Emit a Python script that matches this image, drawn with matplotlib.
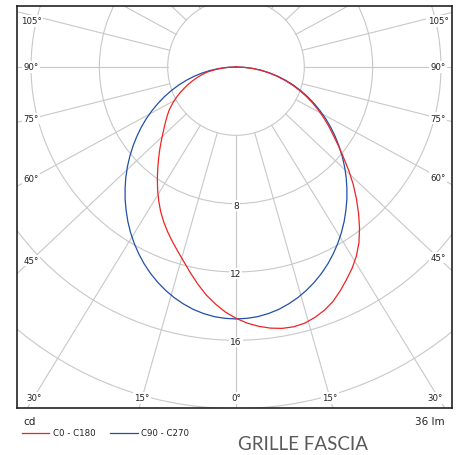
import numpy as np
import matplotlib.pyplot as plt
from matplotlib.patches import Circle
from matplotlib.lines import Line2D

plt.rcParams['font.family'] = ['DejaVu Sans']

# photometric data (cd), gamma in degrees
gamma = [0, 2.5, 5, 7.5, 10, 12.5, 15, 17.5, 20, 22.5, 25, 27.5, 30, 32.5, 35, 37.5,
         40, 42.5, 45, 47.5, 50, 52.5, 55, 57.5, 60, 62.5, 65, 67.5, 70, 72.5, 75,
         77.5, 80, 82.5, 85, 87.5, 90]
c0 = [14.71, 15.01, 15.24, 15.42, 15.54, 15.58, 15.53, 15.37, 15.15, 14.85, 14.45,
      14.02, 13.6, 13.12, 12.55, 11.88, 11.16, 10.43, 9.7, 8.95, 8.2, 7.55, 6.95,
      6.43, 5.92, 5.42, 4.92, 4.42, 3.92, 3.42, 2.92, 2.43, 1.94, 1.46, 0.98, 0.49, 0.0]
c180 = [14.71, 14.36, 13.92, 13.45, 12.9, 12.34, 11.8, 11.32, 10.88, 10.45, 10.01,
        9.55, 9.05, 8.54, 8.03, 7.53, 7.06, 6.62, 6.2, 5.82, 5.48, 5.18, 4.9, 4.62,
        4.3, 3.98, 3.65, 3.3, 2.98, 2.65, 2.33, 2.02, 1.7, 1.28, 0.86, 0.43, 0.0]
c90 = [14.75, 14.73, 14.67, 14.56, 14.41, 14.21, 13.98, 13.71, 13.41, 13.08, 12.72,
       12.33, 11.92, 11.49, 11.04, 10.57, 10.10, 9.61, 9.12, 8.62, 8.11, 7.60, 7.09,
       6.58, 6.07, 5.55, 5.04, 4.53, 4.02, 3.52, 3.01, 2.51, 2.00, 1.50, 1.00, 0.50, 0.0]
c270 = [14.75, 14.73, 14.67, 14.56, 14.41, 14.21, 13.98, 13.71, 13.41, 13.08, 12.72,
        12.33, 11.92, 11.49, 11.04, 10.57, 10.10, 9.61, 9.12, 8.62, 8.11, 7.60, 7.09,
        6.58, 6.07, 5.55, 5.04, 4.53, 4.02, 3.52, 3.01, 2.51, 2.00, 1.50, 1.00, 0.50, 0.0]

rings = [4, 8, 12, 16, 20, 24]
ring_labels = [8, 12, 16]
angle_lines = [0, 15, 30, 45, 60, 75, 90, 105, 120, 135, 150, 165, 180]
angle_labels = [0, 15, 30, 45, 60, 75, 90, 105]
unit_text = 'cd'
flux_text = '36 lm'
series_names = ['C0 - C180', 'C90 - C270']
title = 'GRILLE FASCIA'

RED = '#ee2424'
BLUE = '#2150a8'
GRID = '#c8c8c8'

# layout in pixels
W, H = 464, 456
S = 17.08                   # px per cd
cx, cy = 236, 68            # centre of diagram
L, R, T, B = 17, 452, 7, 409
K = 1.06                    # grid rays are slightly spread sideways

fig = plt.figure(figsize=(W / 100, H / 100), dpi=100)
ax = fig.add_axes([L / W, 1 - B / H, (R - L) / W, (B - T) / H])
ax.set_xlim((L - cx) / S, (R - cx) / S)
ax.set_ylim((cy - B) / S, (cy - T) / S)
ax.set_xticks([])
ax.set_yticks([])
for sp in ax.spines.values():
    sp.set_color('#222222')
    sp.set_linewidth(1.2)

# rings
for r in rings:
    ax.add_patch(Circle((0, 0), r, fill=False, ec=GRID, lw=0.8, zorder=1))

# rays
for a in angle_lines:
    th = np.radians(a)
    for sd in ([1] if a in (0, 180) else [-1, 1]):
        dx, dy = sd * K * np.sin(th), -np.cos(th)
        n = np.hypot(dx, dy)
        ax.plot([4 * dx / n, 40 * dx / n], [4 * dy / n, 40 * dy / n],
                color=GRID, lw=0.8, zorder=1)

# ring values
for r in ring_labels:
    ax.text(0, -r - 0.1, str(r), ha='center', va='center', fontsize=6.5,
            color='#222222', zorder=2,
            bbox=dict(fc='white', ec='none', pad=0.6))

# angle values along the frame
Lx, Rx, By, Ty = 31, 438, 399, 22
for a in angle_labels:
    th = np.radians(a)
    for sd in ([1] if a == 0 else [-1, 1]):
        dx, dy = sd * K * np.sin(th), np.cos(th)
        if dy > 1e-9 and abs(dx * (By - cy) / dy) <= (cx - Lx) + 8:
            px, py = cx + dx * (By - cy) / dy, By
            px = min(max(px, 34), 435)
        else:
            t = ((Rx - cx) if sd > 0 else (cx - Lx)) / abs(dx)
            px, py = cx + dx * t, max(cy + dy * t, Ty)
        ax.text((px - cx) / S, (cy - py) / S, f'{a}°', ha='center', va='center',
                fontsize=6.2, color='#222222', zorder=2,
                bbox=dict(fc='white', ec='none', pad=0.8))


def curve(right, left):
    g = np.radians(gamma)
    right = np.array(right)
    left = np.array(left)
    x = np.concatenate([-(left * np.sin(g))[::-1], right * np.sin(g)])
    y = np.concatenate([-(left * np.cos(g))[::-1], -right * np.cos(g)])
    return x, y


x, y = curve(c90, c270)
ax.plot(x, y, color=BLUE, lw=0.9, zorder=3)
x, y = curve(c0, c180)
ax.plot(x, y, color=RED, lw=0.9, zorder=3)

# texts under the frame
fig.text(23 / W, 1 - 422 / H, unit_text, fontsize=7.5, va='center', ha='left', color='#222222')
fig.text(445 / W, 1 - 422 / H, flux_text, fontsize=7.5, va='center', ha='right', color='#222222')

fig.add_artist(Line2D([22 / W, 49 / W], [1 - 434 / H] * 2, color=RED, lw=0.9))
fig.text(53 / W, 1 - 434 / H, series_names[0], fontsize=6.2, va='center', color='#222222')
fig.add_artist(Line2D([110 / W, 138 / W], [1 - 434 / H] * 2, color=BLUE, lw=0.9))
fig.text(141 / W, 1 - 434 / H, series_names[1], fontsize=6.2, va='center', color='#222222')

fig.text(238 / W, 1 - 445 / H, title, family='Lato', fontsize=13.5,
         color='#5a5a5a', va='center', ha='left')

fig.savefig('out.png', dpi=100)
